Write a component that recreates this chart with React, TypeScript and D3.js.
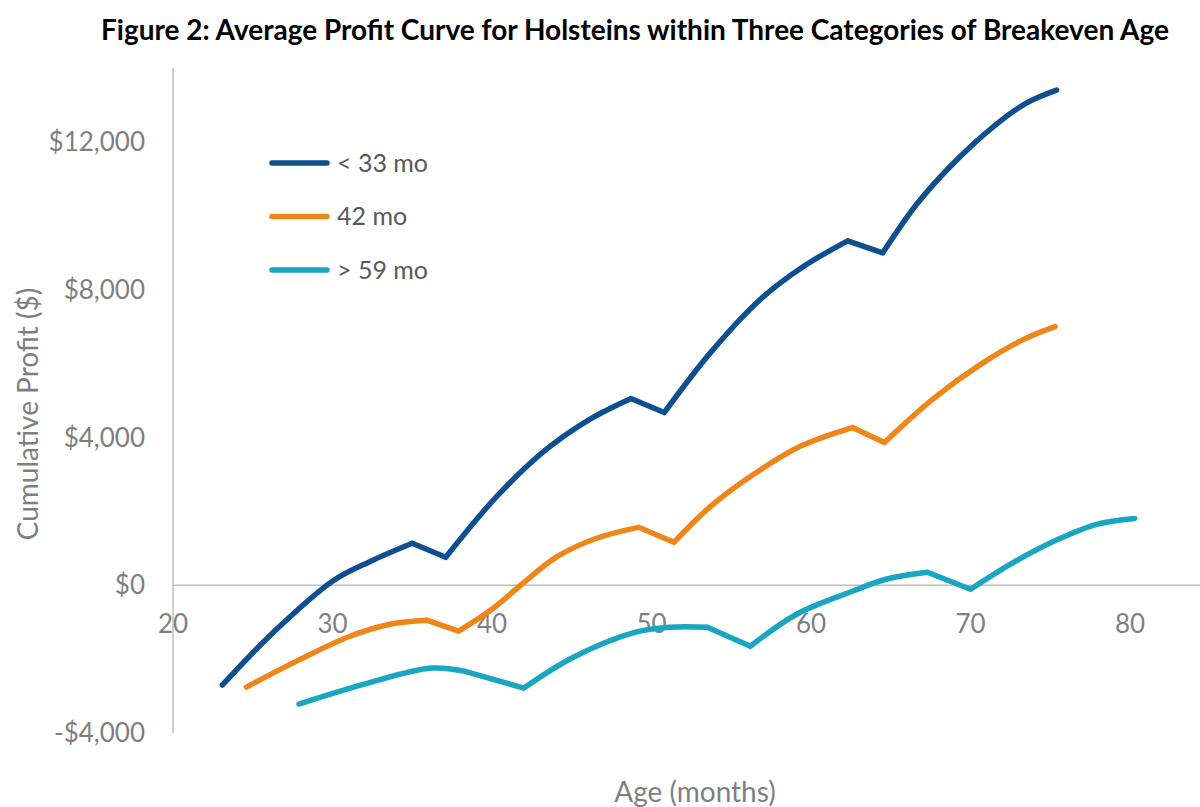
import * as d3 from "d3"
import React, { useEffect, useRef } from "react"

// values (age in months, cumulative profit in $)
const seriesNames = ["< 33 mo", "42 mo", "> 59 mo"]
const seriesColors = ["#0e4f8f", "#ef861a", "#18a6c2"]

const earlyAge = [23.1, 26.3, 30.0, 32.4, 35.0, 37.1, 40.3, 43.4, 46.1, 48.7, 50.8, 53.7, 56.8, 59.5, 62.3, 64.5, 66.6, 68.7, 71.4, 73.5, 75.4]
const earlyProfit = [-2700, -1270, 110, 650, 1135, 757, 2405, 3676, 4486, 5054, 4676, 6297, 7730, 8622, 9324, 9000, 10300, 11324, 12405, 13054, 13405]

const midAge = [24.6, 28.0, 31.1, 33.6, 35.9, 37.9, 40.0, 41.8, 44.1, 46.6, 49.2, 51.4, 53.7, 56.2, 59.3, 62.6, 64.6, 67.6, 70.8, 73.3, 75.3]
const midProfit = [-2757, -2000, -1380, -1054, -946, -1243, -650, 0, 780, 1280, 1568, 1162, 2135, 2946, 3757, 4270, 3865, 5027, 6027, 6649, 7000]

const lateAge = [27.9, 32.0, 36.2, 38.2, 42.0, 45.1, 49.0, 51.1, 53.5, 56.2, 59.1, 62.6, 64.7, 67.3, 70.0, 72.7, 75.5, 77.9, 80.3]
const lateProfit = [-3216, -2676, -2243, -2320, -2784, -1950, -1270, -1135, -1135, -1650, -784, -162, 162, 351, -108, 620, 1243, 1650, 1810]

const xTicks = [20, 30, 40, 50, 60, 70, 80]
const yTicks = [-4000, 0, 4000, 8000, 12000]

const title = "Figure 2: Average Profit Curve for Holsteins within Three Categories of Breakeven Age"

const App = () => {
    const svgRef = useRef(null)

    useEffect(() => {
        document.body.style.margin = "0"
        const width = 1200
        const height = 807

        const svg = d3.select(svgRef.current)
            .attr("width", width)
            .attr("height", height)
            .style("display", "block")
            .style("background", "#ffffff")
        svg.selectAll("*").remove()

        const x = d3.scaleLinear().domain([20, 80]).range([173, 1130])
        const y = d3.scaleLinear().domain([-4000, 12000]).range([733, 142])

        const font = "Lato, 'Open Sans', sans-serif"
        const grey = "#7f7f7f"

        // title
        svg.append("text")
            .attr("x", 635)
            .attr("y", 40)
            .attr("text-anchor", "middle")
            .attr("font-family", font)
            .attr("font-weight", "bold")
            .attr("font-size", 28)
            .attr("fill", "#000000")
            .attr("textLength", 1068)
            .attr("lengthAdjust", "spacingAndGlyphs")
            .text(title)

        // axis lines
        svg.append("line")
            .attr("x1", x(20)).attr("x2", x(20))
            .attr("y1", y(14000)).attr("y2", y(-4000))
            .attr("stroke", "#bfbfbf").attr("stroke-width", 1.5)
        svg.append("line")
            .attr("x1", x(20)).attr("x2", width)
            .attr("y1", y(0)).attr("y2", y(0))
            .attr("stroke", "#bfbfbf").attr("stroke-width", 1.5)

        // y tick labels
        const fmt = (v: number) => (v < 0 ? "-$" : "$") + d3.format(",")(Math.abs(v))
        svg.selectAll(".ylab")
            .data(yTicks)
            .join("text")
            .attr("class", "ylab")
            .attr("x", 145)
            .attr("y", (d) => y(d))
            .attr("dy", "0.35em")
            .attr("text-anchor", "end")
            .attr("font-family", font)
            .attr("font-size", 26)
            .attr("fill", grey)
            .text((d) => fmt(d))

        // x tick labels
        svg.selectAll(".xlab")
            .data(xTicks)
            .join("text")
            .attr("class", "xlab")
            .attr("x", (d) => x(d))
            .attr("y", 624)
            .attr("dy", "0.35em")
            .attr("text-anchor", "middle")
            .attr("font-family", font)
            .attr("font-size", 26)
            .attr("fill", grey)
            .text((d) => d)

        // axis titles
        svg.append("text")
            .attr("transform", `translate(38, 414) rotate(-90)`)
            .attr("text-anchor", "middle")
            .attr("font-family", font)
            .attr("font-size", 28)
            .attr("fill", grey)
            .text("Cumulative Profit ($)")
        svg.append("text")
            .attr("x", 695)
            .attr("y", 802)
            .attr("text-anchor", "middle")
            .attr("font-family", font)
            .attr("font-size", 28)
            .attr("fill", grey)
            .text("Age (months)")

        // lines: smooth arcs, straight drop from the point before each dip to the dip
        const series = [
            earlyAge.map((a, i) => [a, earlyProfit[i]]),
            midAge.map((a, i) => [a, midProfit[i]]),
            lateAge.map((a, i) => [a, lateProfit[i]]),
        ]
        const line = d3.line<number[]>()
            .x((d) => x(d[0]))
            .y((d) => y(d[1]))
            .curve(d3.curveCatmullRom.alpha(0.5))

        const piecewise = (pts: number[][]) => {
            const breaks = [0]
            for (let i = 1; i < pts.length - 1; i++) {
                const dip = pts[i][1] < pts[i - 1][1] && pts[i + 1][1] > pts[i][1]
                if (dip) {
                    if (breaks[breaks.length - 1] !== i - 1) breaks.push(i - 1)
                    breaks.push(i)
                }
            }
            breaks.push(pts.length - 1)
            let d = ""
            for (let b = 0; b < breaks.length - 1; b++) {
                d += line(pts.slice(breaks[b], breaks[b + 1] + 1))
            }
            return d
        }

        svg.selectAll(".series")
            .data(series)
            .join("path")
            .attr("class", "series")
            .attr("d", (d) => piecewise(d))
            .attr("fill", "none")
            .attr("stroke", (d, i) => seriesColors[i])
            .attr("stroke-width", 5.5)
            .attr("stroke-linejoin", "round")
            .attr("stroke-linecap", "round")

        // legend
        const legend = svg.selectAll(".legend")
            .data(seriesNames)
            .join("g")
            .attr("class", "legend")
            .attr("transform", (d, i) => `translate(272, ${163 + i * 53.5})`)
        legend.append("line")
            .attr("x1", 0).attr("x2", 55)
            .attr("stroke", (d, i) => seriesColors[i])
            .attr("stroke-width", 5.5)
            .attr("stroke-linecap", "round")
        legend.append("text")
            .attr("x", 65)
            .attr("dy", "0.35em")
            .attr("font-family", font)
            .attr("font-size", 25)
            .attr("fill", "#595959")
            .text((d) => d)
    }, [])

    return <svg ref={svgRef}></svg>
}

export default App
